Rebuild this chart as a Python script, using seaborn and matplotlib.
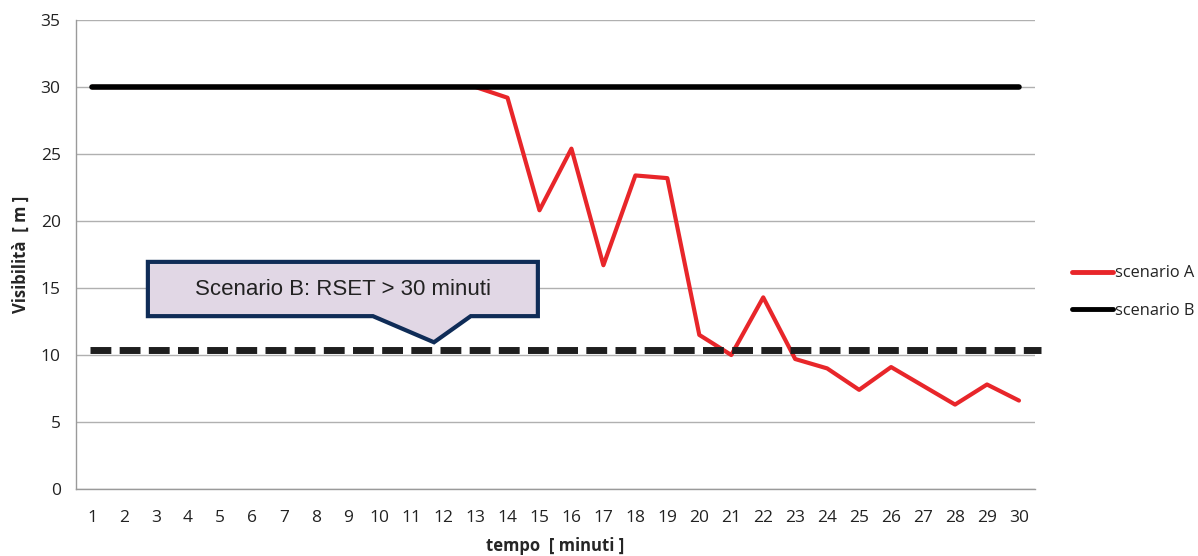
import numpy as np
import pandas as pd
import matplotlib
matplotlib.use("Agg")
import matplotlib.pyplot as plt
from matplotlib.patches import Polygon
import seaborn as sns

minutes = list(range(1, 31))
scenario_a = [30, 30, 30, 30, 30, 30, 30, 30, 30, 30, 30, 30, 30,
              29.2, 20.8, 25.4, 16.7, 23.4, 23.2, 11.5, 10.0, 14.3,
              9.7, 9.0, 7.4, 9.1, 7.7, 6.3, 7.8, 6.6]
scenario_b = [30] * 30
threshold = 10.4
callout_text = "Scenario B: RSET > 30 minuti"
y_ticks = [0, 5, 10, 15, 20, 25, 30, 35]

df = pd.DataFrame({
    "tempo": minutes * 2,
    "vis": scenario_a + scenario_b,
    "serie": ["scenario A"] * 30 + ["scenario B"] * 30,
})

sns.set_style("white")
plt.rcParams["font.family"] = ["Open Sans", "DejaVu Sans"]

fig = plt.figure(figsize=(11.98, 5.56), dpi=100)
ax = fig.add_axes([0.0634, 0.1205, 0.8005, 0.8435])

sns.lineplot(data=df[df.serie == "scenario A"], x="tempo", y="vis", color="#E8262A",
             lw=3, ax=ax, label="scenario A", zorder=3)
sns.lineplot(data=df[df.serie == "scenario B"], x="tempo", y="vis", color="#000000",
             lw=4, ax=ax, label="scenario B", zorder=4)

ax.set_xlim(0.5, 30.5)
ax.set_ylim(0, 35)
ax.set_yticks(y_ticks)
ax.set_xticks(minutes)
ax.set_xticks(np.arange(0.5, 31, 1), minor=True)
ax.tick_params(axis="x", which="major", length=0, pad=15, labelsize=12.5, colors="#222222")
ax.tick_params(axis="x", which="minor", length=5, color="#9a9a9a", width=1)
ax.tick_params(axis="y", which="major", length=6, color="#9a9a9a", labelsize=12.5,
               colors="#222222", pad=5)
ax.grid(axis="y", color="#b0b0b0", lw=1)
ax.grid(axis="x", visible=False)
for s in ["top", "right"]:
    ax.spines[s].set_visible(False)
for s in ["left", "bottom"]:
    ax.spines[s].set_color("#9a9a9a")
    ax.spines[s].set_linewidth(1)

ax.set_xlabel("tempo  [ minuti ]", fontsize=12, fontweight="bold", labelpad=8)
ax.set_ylabel("Visibilità  [ m ]", fontsize=12, fontweight="bold", labelpad=8)

# dashed threshold line
ax.plot([0.95, 30.7], [threshold, threshold], color="#1e1e1e", lw=5,
        dashes=(3.0, 1.2), clip_on=False, zorder=5, solid_capstyle="butt",
        dash_capstyle="butt")

# callout
bx0, bx1, by0, by1 = 2.75, 14.95, 12.9, 16.95
px0, px1, tipx, tipy = 9.79, 12.85, 11.7, 10.95
poly = Polygon([(bx0, by0), (bx0, by1), (bx1, by1), (bx1, by0), (px1, by0),
                (tipx, tipy), (px0, by0)], closed=True,
               facecolor="#E1D7E5", edgecolor="#0F2C57", lw=3, zorder=6,
               joinstyle="miter")
ax.add_patch(poly)
ax.text((bx0 + bx1) / 2, (by0 + by1) / 2, callout_text, ha="center", va="center",
        fontsize=16, color="#222222", family=["Liberation Sans", "DejaVu Sans"], zorder=7)

leg = ax.legend(loc="center left", bbox_to_anchor=(1.025, 0.42), frameon=False,
                fontsize=11.8, handlelength=2.5, handletextpad=0.1, labelspacing=1.3,
                borderpad=0.3)
for t in leg.get_texts():
    t.set_color("#222222")
for h in leg.get_lines():
    h.set_linewidth(3.5)

fig.savefig("out.png", dpi=100)
